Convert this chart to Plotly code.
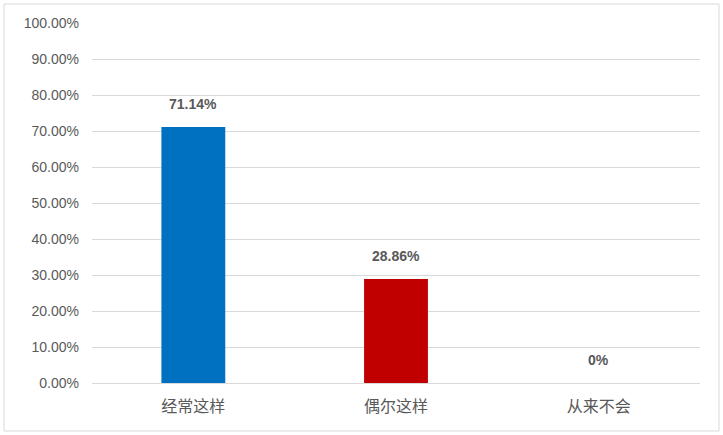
import plotly.graph_objects as go

categories = ["经常这样", "偶尔这样", "从来不会"]
shares = [71.14, 28.86, 0]
value_labels = ["71.14%", "28.86%", "0%"]
bar_colors = ["#0070C0", "#C00000", "#A5A5A5"]
y_ticks = [0, 10, 20, 30, 40, 50, 60, 70, 80, 90, 100]
y_tick_labels = [f"{v:.2f}%" for v in y_ticks]

W, H = 723, 435
ml, mr, mt, mb = 92, 23, 23, 52

fig = go.Figure()
fig.add_trace(go.Bar(
    x=categories, y=shares,
    marker=dict(color=bar_colors, line_width=0),
    width=0.315,
    hoverinfo="skip",
))

for cat, val, lab in zip(categories, shares, value_labels):
    fig.add_annotation(
        x=cat, y=val, text=f"<b>{lab}</b>", showarrow=False,
        yanchor="bottom", yshift=13,
        font=dict(family="Liberation Sans, DejaVu Sans", size=14, color="#595959"),
    )

pw = W - ml - mr
ph = H - mt - mb
# outer light border around the whole chart
fig.add_shape(
    type="rect", xref="paper", yref="paper",
    x0=(4 - ml) / pw, x1=(719 - ml) / pw,
    y0=(H - mb - 431) / ph, y1=(H - mb - 4) / ph,
    line=dict(color="#D9D9D9", width=1), layer="below",
)

fig.update_layout(
    width=W, height=H,
    margin=dict(l=ml, r=mr, t=mt, b=mb, autoexpand=False),
    paper_bgcolor="white", plot_bgcolor="white",
    showlegend=False,
    font=dict(family="Noto Sans CJK SC, Liberation Sans", color="#595959"),
)
fig.update_xaxes(
    showline=False, showgrid=False, ticks="", ticklabelstandoff=12,
    tickfont=dict(family="Noto Sans CJK SC", size=16, color="#595959"),
)
fig.update_yaxes(
    range=[0, 100], tickvals=y_ticks, ticktext=y_tick_labels,
    showgrid=True, gridcolor="#D9D9D9", gridwidth=1,
    zeroline=True, zerolinecolor="#D9D9D9", zerolinewidth=1,
    showline=False, ticks="", ticklabelstandoff=12,
    tickfont=dict(family="Liberation Sans, DejaVu Sans", size=14, color="#595959"),
)

fig.write_html("out.html", config={"displayModeBar": False},
               post_script="document.body.style.margin='0';")
